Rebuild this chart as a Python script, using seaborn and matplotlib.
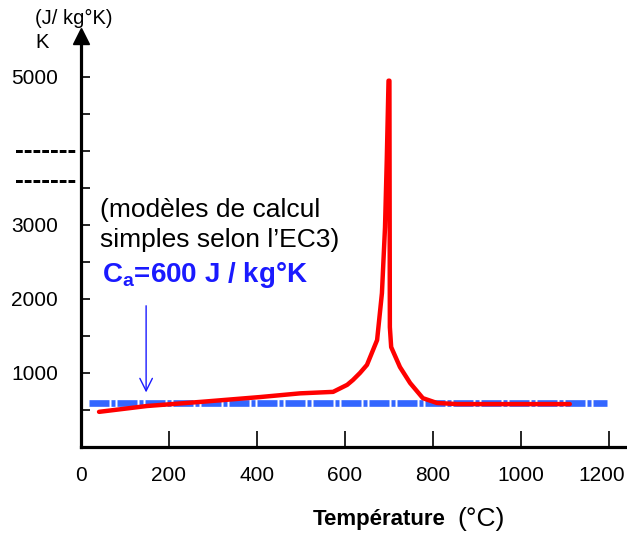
import numpy as np
import pandas as pd
import matplotlib
matplotlib.use('Agg')
import matplotlib.pyplot as plt
from matplotlib.transforms import ScaledTranslation
import seaborn as sns

# Specific heat of steel vs temperature
temp_ec3 = [41, 150, 277, 407, 498, 573, 605, 618, 634, 650, 673, 684, 691,
            695, 699, 701, 702, 705, 725, 748, 777, 809, 855, 1005, 1111]
cp_ec3 = [475, 554, 612, 675, 725, 745, 840, 905, 1000, 1110, 1445, 2080, 2970,
          3880, 4950, 4950, 1620, 1350, 1080, 865, 660, 595, 580, 580, 580]

# Simplified constant value
temp_simple = [18, 1195]
cp_simple = [600, 600]

x_ticks = [0, 200, 400, 600, 800, 1000, 1200]
y_ticks = [500, 1000, 1500, 2000, 2500, 3000, 3500, 4000, 4500, 5000]
y_labels = ['', '1000', '', '2000', '', '3000', '', '', '', '5000']

sns.set_style('white')
plt.rcParams['font.family'] = ['Liberation Sans', 'DejaVu Sans']
plt.rcParams['text.color'] = 'black'
plt.rcParams['mathtext.fontset'] = 'custom'
plt.rcParams['mathtext.rm'] = 'Liberation Sans'
plt.rcParams['mathtext.bf'] = 'Liberation Sans:bold'

df_ec3 = pd.DataFrame({'T': temp_ec3, 'cp': cp_ec3})
df_simple = pd.DataFrame({'T': temp_simple, 'cp': cp_simple})

fig = plt.figure(figsize=(6.27, 5.38), dpi=100)
ax = fig.add_axes([81 / 627, 91 / 538, 546 / 627, 407 / 538])

sns.lineplot(data=df_simple, x='T', y='cp', ax=ax, color='#3366FF', lw=4.8,
             linestyle=(0, (3.0, 0.3, 0.6, 0.3)), solid_capstyle='butt')
sns.lineplot(data=df_ec3, x='T', y='cp', ax=ax, color='red', lw=3.2,
             sort=False, estimator=None)

ax.set_xlim(0, 1241)
ax.set_ylim(0, 5500)

for s in ['top', 'right']:
    ax.spines[s].set_visible(False)
for s in ['left', 'bottom']:
    ax.spines[s].set_linewidth(2.3)
    ax.spines[s].set_color('black')

ax.set_xticks(x_ticks)
ax.set_xticklabels([str(v) for v in x_ticks])
ax.set_yticks(y_ticks)
ax.set_yticklabels(y_labels)
ax.tick_params(axis='x', bottom=True, direction='in', length=11.5, width=1.2,
               pad=14, labelsize=15, colors='black')
ax.tick_params(axis='y', left=True, direction='in', length=6.5, width=1.2,
               pad=16.5, labelsize=15, colors='black')
# last label sits a bit left of its tick, as in the original
last = ax.get_xticklabels()[-1]
last.set_transform(last.get_transform() + ScaledTranslation(-5 / 72, 0, fig.dpi_scale_trans))
ax.set_xlabel('')
ax.set_ylabel('')

# arrow head on top of y axis
ax.plot(0, 1.011, marker='^', color='black', markersize=11,
        transform=ax.transAxes, clip_on=False)

# broken-scale marks on the y axis
ax.text(-0.009, 4000, '-------', transform=ax.get_yaxis_transform(),
        ha='right', va='center', fontsize=19, fontweight='bold')
ax.text(-0.009, 3600, '-------', transform=ax.get_yaxis_transform(),
        ha='right', va='center', fontsize=19, fontweight='bold')

# annotations
ax.text(43, 3200, '(modèles de calcul', fontsize=19, va='center')
ax.text(43, 2800, 'simples selon l\u2019EC3)', fontsize=19, va='center')
ax.text(48, 2330, r'$\mathbf{C_a}$=600 J / kg°K', fontsize=20,
        fontweight='bold', color='#1a1aff', va='center')
ax.annotate('', xy=(148, 700), xytext=(148, 1946),
            arrowprops=dict(arrowstyle='->,head_length=0.9,head_width=0.45',
                            color='#1a1aff', lw=1.0, mutation_scale=10))

# axis titles
fig.text(35 / 627, 1 - 18 / 538, '(J/ kg°K)', fontsize=14.5, va='center')
fig.text(35 / 627, 1 - 42 / 538, 'K', fontsize=14.5, va='center')
fig.text(313 / 627, 1 - 519 / 538, 'Température', fontsize=16,
         fontweight='bold', va='center')
fig.text(457 / 627, 1 - 519 / 538, '(°C)', fontsize=19, va='center')

fig.savefig('out.png', dpi=100)
